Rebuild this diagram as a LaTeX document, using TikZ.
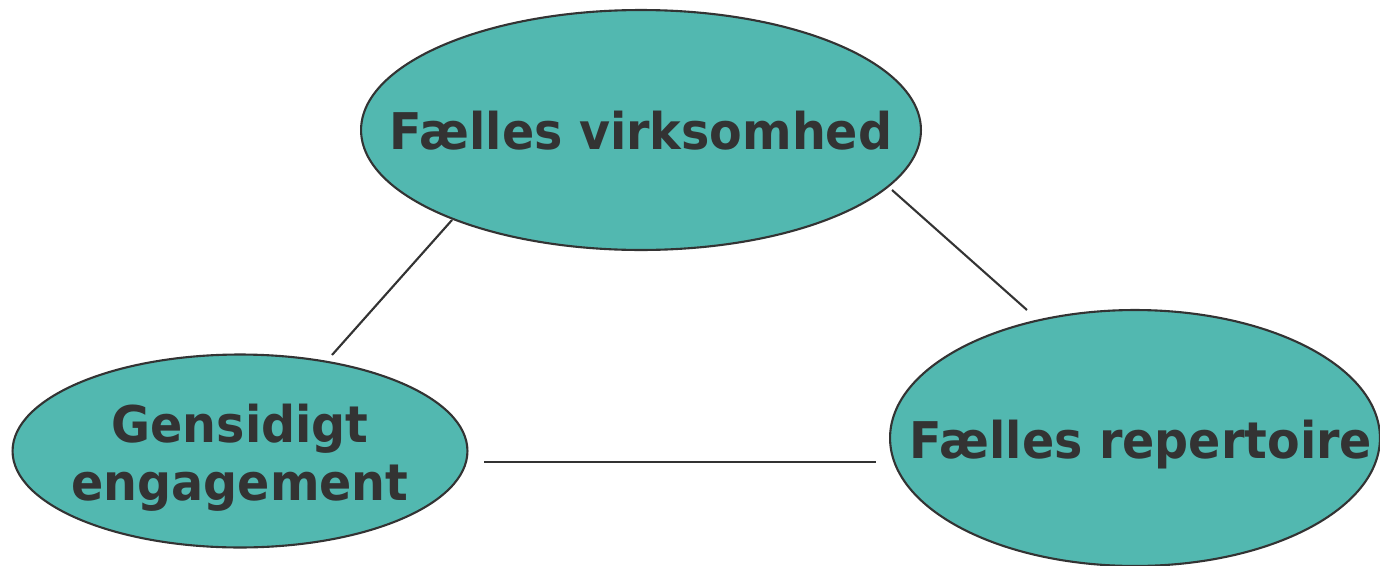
\documentclass[tikz,border=0pt]{standalone}
\usepackage{fontspec}
\usepackage{xcolor}
\usepackage{tikz}
\usetikzlibrary{shapes.geometric}
\newfontfamily\diagfont[FakeStretch=0.94]{DejaVu Sans}
\definecolor{ovalfill}{HTML}{52B8B0}
\definecolor{edgegray}{HTML}{333333}
\definecolor{textgray}{HTML}{333333}

\begin{document}
\begin{tikzpicture}[x=0.02cm, y=-0.02cm,
    oval/.style={ellipse, draw=edgegray, line width=1.2pt, fill=ovalfill, inner sep=0pt},
    lbl/.style={font=\diagfont\bfseries\fontsize{28.8}{33}\selectfont, text=textgray, align=center, inner sep=0pt},
    link/.style={draw=edgegray, line width=1.2pt}]
        \useasboundingbox (0,0) rectangle (1380,565);

        % Ellipses
        \node[oval, minimum width=11.2cm, minimum height=4.8cm] (act) at (641,130) {};
        \node[oval, minimum width=9.1cm, minimum height=3.86cm] (eng) at (240,451) {};
        \node[oval, minimum width=9.8cm, minimum height=5.12cm] (rep) at (1135,438) {};

        % Labels
        \node[lbl] (actlbl) at (641,131) {Fælles virksomhed};
        \node[lbl] (englbl) at (240,458) {Gensidigt\\engagement};
        \node[lbl] (replbl) at (1141,445) {Fælles repertoire};

        % Line ends
        \coordinate (a1) at (452,220);
        \coordinate (e1) at (332,355);
        \coordinate (a2) at (892,190);
        \coordinate (r1) at (1027,310);
        \coordinate (e2) at (484,462);
        \coordinate (r2) at (876,462);

        % Connectors
        \draw[link] (a1) -- (e1);
        \draw[link] (a2) -- (r1);
        \draw[link] (e2) -- (r2);
\end{tikzpicture}
\end{document}
